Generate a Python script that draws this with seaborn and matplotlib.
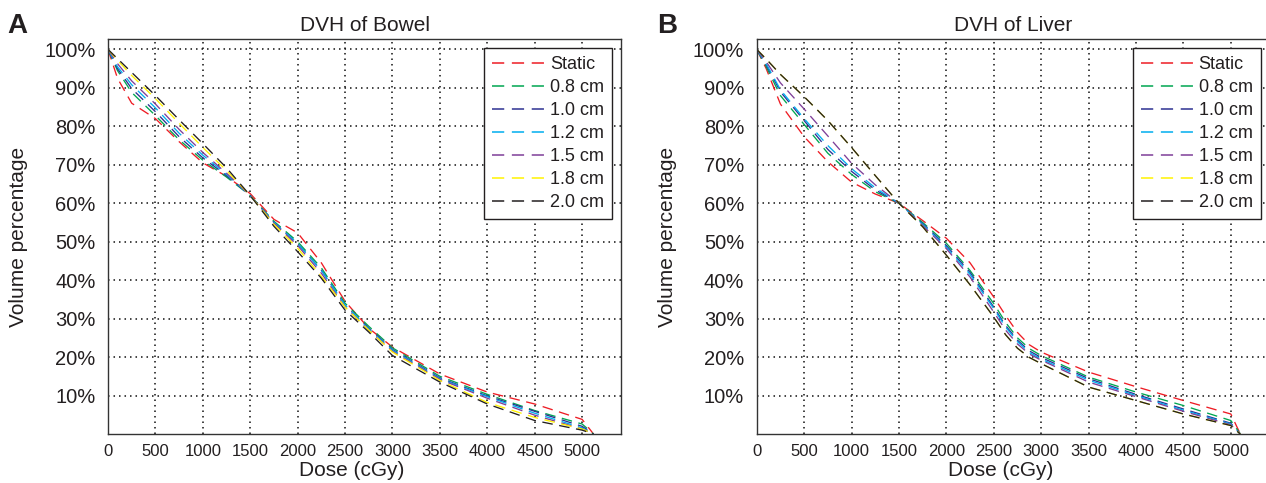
import numpy as np
import pandas as pd
import matplotlib.pyplot as plt
import seaborn as sns

# dose axis (cGy) for the sampled points
dose_bowel = [0, 100, 250, 500, 750, 1000, 1250, 1500, 1750, 2000, 2250, 2500, 2750, 3000, 3500, 4000, 4500, 5000, 5120]
dose_liver = [0, 100, 250, 500, 750, 1000, 1250, 1500, 1750, 2000, 2250, 2500, 2625, 2750, 2875, 3000, 3500, 4000, 4500, 5000, 5100]

series_names = ['Static', '0.8 cm', '1.0 cm', '1.2 cm', '1.5 cm', '1.8 cm', '2.0 cm']
series_colors = ['#ee1c24', '#00a651', '#2e3192', '#00aeef', '#7f3f98', '#fff200', '#231f20']

# volume percentage, bowel
bowel_static = [100, 92.5, 86.0, 82.0, 76.0, 70.5, 67.0, 62.5, 55.8, 52.3, 44.5, 34.5, 27.5, 22.6, 15.6, 10.9, 7.8, 3.8, 0]
bowel_08 = [100, 94.5, 88.8, 82.8, 76.5, 71.2, 66.8, 62.0, 55.3, 50.0, 43.2, 34.0, 28.0, 22.4, 15.0, 10.3, 6.1, 2.6, 0]
bowel_10 = [100, 95.0, 89.8, 83.8, 77.3, 71.8, 67.2, 62.0, 55.0, 49.5, 42.6, 33.5, 27.5, 22.0, 14.6, 9.9, 5.9, 2.0, 0]
bowel_12 = [100, 95.5, 90.8, 84.8, 78.2, 72.5, 67.5, 62.0, 55.0, 49.5, 42.5, 33.5, 27.3, 21.8, 14.4, 9.7, 5.4, 1.6, 0]
bowel_15 = [100, 96.3, 91.8, 85.8, 79.2, 73.2, 67.8, 62.0, 54.8, 49.0, 41.8, 33.0, 27.0, 21.5, 14.2, 9.3, 4.9, 1.3, 0]
bowel_18 = [100, 97.2, 93.2, 87.2, 80.8, 74.5, 68.5, 62.0, 54.5, 48.3, 41.0, 33.0, 27.0, 21.3, 13.9, 8.2, 4.3, 1.3, 0]
bowel_20 = [100, 97.6, 94.0, 88.0, 81.7, 75.5, 69.2, 62.0, 54.0, 47.4, 40.5, 32.2, 26.5, 20.4, 13.5, 7.8, 3.5, 1.0, 0]

# volume percentage, liver
liver_static = [100, 95.0, 85.8, 77.3, 70.8, 65.5, 62.4, 60.0, 55.5, 50.9, 44.5, 35.6, 30.8, 26.4, 23.2, 21.3, 16.1, 12.3, 8.7, 5.2, 0]
liver_08 = [100, 95.5, 88.0, 80.5, 73.0, 67.5, 63.0, 60.0, 55.0, 49.6, 42.5, 33.9, 29.0, 25.0, 22.2, 20.4, 14.8, 10.9, 7.4, 3.5, 0]
liver_10 = [100, 96.0, 89.0, 81.5, 74.0, 68.3, 63.5, 60.0, 54.7, 49.0, 42.0, 33.0, 28.2, 24.4, 21.6, 19.9, 14.4, 10.3, 6.5, 2.8, 0]
liver_12 = [100, 96.3, 89.5, 82.0, 75.0, 69.0, 64.0, 60.0, 54.5, 48.6, 41.5, 32.6, 27.8, 24.0, 21.2, 19.5, 14.0, 10.0, 6.2, 2.6, 0]
liver_15 = [100, 96.8, 91.3, 84.5, 77.5, 70.4, 64.8, 60.0, 54.2, 48.2, 40.8, 31.7, 27.0, 23.4, 20.8, 19.2, 13.5, 9.7, 5.9, 2.4, 0]
liver_18 = [100, 97.5, 93.5, 87.7, 81.5, 74.5, 67.2, 60.0, 53.9, 46.5, 38.8, 30.4, 25.8, 22.3, 19.9, 18.3, 12.2, 8.7, 5.2, 2.2, 0]  # hidden under 2.0 cm
liver_20 = [100, 97.5, 93.5, 87.7, 81.5, 74.5, 67.2, 60.0, 53.9, 46.5, 38.8, 30.4, 25.8, 22.3, 19.9, 18.3, 12.2, 8.7, 5.2, 2.2, 0]

bowel_series = [bowel_static, bowel_08, bowel_10, bowel_12, bowel_15, bowel_18, bowel_20]
liver_series = [liver_static, liver_08, liver_10, liver_12, liver_15, liver_18, liver_20]

TXT = '#231f20'


def to_long(dose, series):
    rows = []
    for name, vals in zip(series_names, series):
        for d, v in zip(dose, vals):
            rows.append((name, d, v))
    return pd.DataFrame(rows, columns=['motion', 'dose', 'volume'])


def dvhPlot(ax, df, title):
    sns.lineplot(data=df, x='dose', y='volume', hue='motion', style='motion',
                 hue_order=series_names, style_order=series_names,
                 palette=dict(zip(series_names, series_colors)),
                 dashes={n: (8, 5) for n in series_names},
                 sort=False, errorbar=None, lw=0.95, ax=ax)

    ax.set_xlim(0, 5410)
    ax.set_ylim(0, 102.7)
    ax.set_xticks(np.arange(0, 5001, 500))
    ax.set_yticks(np.arange(10, 101, 10))
    ax.set_yticklabels(['%d%%' % v for v in np.arange(10, 101, 10)], fontsize=14.5, color=TXT)
    ax.set_xticklabels([str(v) for v in np.arange(0, 5001, 500)], fontsize=12, color=TXT)
    ax.tick_params(length=0)
    ax.tick_params(axis='y', pad=9)
    ax.tick_params(axis='x', pad=7)
    ax.grid(True, color='#111111', linestyle=(0, (1, 2.6)), lw=1.1)

    for s in ax.spines.values():
        s.set_visible(True)
        s.set_color('#333333')
        s.set_linewidth(1.0)

    ax.set_title(title, fontsize=15, color=TXT, pad=6)
    ax.set_xlabel('Dose (cGy)', fontsize=15, color=TXT)
    ax.set_ylabel('Volume percentage', fontsize=15, color=TXT)
    ax.xaxis.set_label_coords(0.475, -0.068)
    ax.yaxis.set_label_coords(-0.155, 0.5)

    handles, labels = ax.get_legend_handles_labels()
    leg = ax.legend(handles, labels, loc='upper right', fontsize=13, frameon=True,
                    fancybox=False, framealpha=1, handlelength=2.9, handletextpad=0.3,
                    labelspacing=0.33, borderpad=0.45, borderaxespad=0.5)
    leg.get_frame().set_edgecolor('#231f20')
    leg.get_frame().set_linewidth(1.0)
    for h in leg.get_lines():
        h.set_linewidth(1.1)
    for t in leg.get_texts():
        t.set_color(TXT)


sns.set_theme(style='white')
plt.rcParams['font.family'] = ['Liberation Sans', 'DejaVu Sans']

fig = plt.figure(figsize=(12.66, 4.83), dpi=100)
axA = fig.add_axes([108 / 1266, 49 / 483, 513 / 1266, 395 / 483])
axB = fig.add_axes([756.7 / 1266, 49 / 483, 513 / 1266, 395 / 483])

dvhPlot(axA, to_long(dose_bowel, bowel_series), 'DVH of Bowel')
dvhPlot(axB, to_long(dose_liver, liver_series), 'DVH of Liver')

fig.text(7 / 1266, 1 - 33 / 483, 'A', fontsize=20, fontweight='bold', color=TXT, va='baseline')
fig.text(657 / 1266, 1 - 33 / 483, 'B', fontsize=20, fontweight='bold', color=TXT, va='baseline')

fig.savefig('out.png', dpi=100)
